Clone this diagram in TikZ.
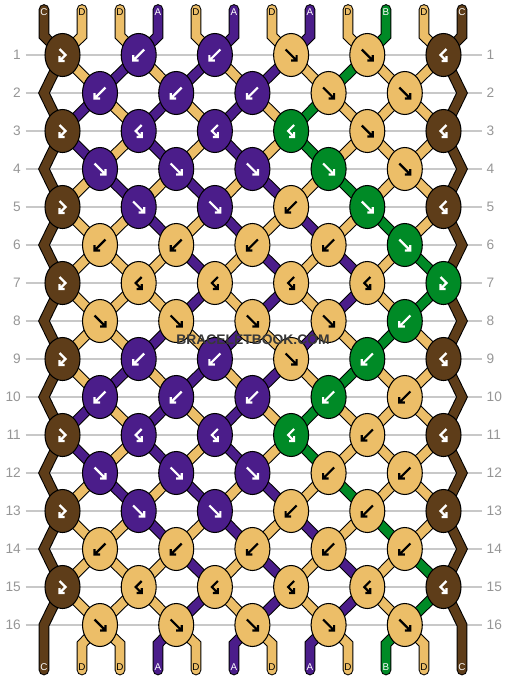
\documentclass[tikz,border=0pt]{standalone}
\usepackage{fontspec}
\setmainfont{Liberation Sans}
\usepackage{tikz}
\usetikzlibrary{shapes.geometric,backgrounds}

\definecolor{colA}{RGB}{75,29,138}
\definecolor{colB}{RGB}{0,138,38}
\definecolor{colC}{RGB}{94,61,25}
\definecolor{colD}{RGB}{236,190,104}
\colorlet{arrA}{white}
\colorlet{arrB}{white}
\colorlet{arrC}{white}
\colorlet{arrD}{black}
\definecolor{gridgray}{RGB}{200,200,200}
\definecolor{rowgray}{RGB}{150,150,150}

\tikzset{
  knot/.style={ellipse, draw=black, line width=0.6pt, inner sep=0pt,
    minimum width=0.7cm, minimum height=0.86cm},
  strand/.style={draw=black, line width=0.6pt, double distance=4.9pt, line join=miter},
  symline/.style={line width=1.25pt, line join=miter},
  rowlab/.style={text=rowgray, inner sep=2.5pt, font=\fontsize{7.8}{9}\selectfont},
  endlab/.style={inner sep=0pt, font=\fontsize{5.6}{6}\selectfont},
  gridline/.style={draw=gridgray, line width=0.85pt},
  symf/.pic={\draw[symline] (-5.5,-5.5) -- (5.5,5.5) (0,5.5) -- (5.5,5.5) -- (5.5,0);},
  symb/.pic={\draw[symline] (5.5,-5.5) -- (-5.5,5.5) (0,5.5) -- (-5.5,5.5) -- (-5.5,0);},
  symfb/.pic={\draw[symline] (-3,-6) -- (3,0) -- (-3,6) (-3,1) -- (-3,6) -- (2,6);},
  symbf/.pic={\draw[symline] (3,-6) -- (-3,0) -- (3,6) (3,1) -- (3,6) -- (-2,6);},
}

\begin{document}
\begin{tikzpicture}[x=0.02cm, y=-0.02cm]
\useasboundingbox (0,0) rectangle (506,680);

% knots, row by row (type/colour)
\foreach \r/\kl in {
  1/{fb/C,b/A,b/A,f/D,f/D,bf/C},
  2/{b/A,b/A,b/A,f/D,f/D},
  3/{fb/C,bf/A,bf/A,bf/B,f/D,bf/C},
  4/{f/A,f/A,f/A,f/B,f/D},
  5/{fb/C,f/A,f/A,b/D,f/B,bf/C},
  6/{b/D,b/D,b/D,b/D,f/B},
  7/{fb/C,bf/D,bf/D,bf/D,bf/D,fb/B},
  8/{f/D,f/D,f/D,f/D,b/B},
  9/{fb/C,b/A,b/A,f/D,b/B,bf/C},
  10/{b/A,b/A,b/A,b/B,b/D},
  11/{fb/C,bf/A,bf/A,bf/B,b/D,bf/C},
  12/{f/A,f/A,f/A,b/D,b/D},
  13/{fb/C,f/A,f/A,b/D,b/D,bf/C},
  14/{b/D,b/D,b/D,b/D,b/D},
  15/{fb/C,bf/D,bf/D,bf/D,bf/D,bf/C},
  16/{f/D,f/D,f/D,f/D,f/D}} {
  \pgfmathsetmacro\ky{55+38*(\r-1)}
  \pgfmathsetmacro\xo{isodd(\r) ? 62.5 : 100}
  \foreach \t/\c [count=\k] in \kl {
    \node[knot, fill=col\c] (k\r-\k) at ({\xo+76.2*(\k-1)},\ky) {};
    \pic[color=arr\c] at (k\r-\k) {sym\t};
  }
  \ifodd\r\relax\else
    \coordinate (L\r) at (44,\ky);
    \coordinate (R\r) at (462,\ky);
  \fi
}

% string ends and their letters
\foreach \c [count=\p] in {C,D,D,A,D,A,D,A,D,B,D,C} {
  \pgfmathsetmacro\sx{44+38*(\p-1)}
  \node[endlab, text=arr\c] (top-\p) at (\sx,12.5) {\c};
  \node[endlab, text=arr\c] (bot-\p) at (\sx,667) {\c};
  \coordinate (a-\p) at (\sx,9.5);
  \coordinate (t-\p) at (\sx,36);
  \coordinate (u-\p) at (\sx,644);
  \coordinate (f-\p) at (\sx,670);
}

\node[font=\bfseries\fontsize{7.9}{9}\selectfont, text=black!78] (wm) at (253,340) {BRACELETBOOK.COM};

\begin{pgfonlayer}{background}
% row lines
\foreach \r in {1,...,16} {
  \node[rowlab, anchor=east] (rl-\r) at (25.5,{55+38*(\r-1)}) {\r};
  \node[rowlab, anchor=west] (rr-\r) at (482,{55+38*(\r-1)}) {\r};
  \draw[gridline] (rl-\r) -- (rr-\r);
}

% from the top into row 1
\foreach \c [count=\p] in {C,D,D,A,D,A,D,A,D,B,D,C} {
  \pgfmathtruncatemacro\k{(\p+1)/2}
  \draw[strand, double=col\c, line cap=round] (a-\p) -- (t-\p) -- (k1-\k.center);
}

% between the rows (positions 2 to 11)
\foreach \r/\cl in {
  1/{D,A,D,A,D,A,D,B,D,D},
  2/{A,D,A,D,A,D,B,D,D,D},
  3/{A,D,A,D,A,D,B,D,D,D},
  4/{D,A,D,A,D,A,D,B,D,D},
  5/{D,D,A,D,A,D,A,D,B,D},
  6/{D,D,D,A,D,A,D,A,D,B},
  7/{D,D,D,A,D,A,D,A,D,B},
  8/{D,D,A,D,A,D,A,D,B,D},
  9/{D,A,D,A,D,A,D,B,D,D},
  10/{A,D,A,D,A,D,B,D,D,D},
  11/{A,D,A,D,A,D,B,D,D,D},
  12/{D,A,D,A,D,A,D,B,D,D},
  13/{D,D,A,D,A,D,A,D,B,D},
  14/{D,D,D,A,D,A,D,A,D,B},
  15/{D,D,D,A,D,A,D,A,D,B}} {
  \pgfmathtruncatemacro\s{\r+1}
  \foreach \c [count=\i] in \cl {
    \pgfmathtruncatemacro\p{\i+1}
    \ifodd\r\relax
      \pgfmathtruncatemacro\a{(\p+1)/2}\pgfmathtruncatemacro\b{\p/2}
    \else
      \pgfmathtruncatemacro\a{\p/2}\pgfmathtruncatemacro\b{(\p+1)/2}
    \fi
    \draw[strand, double=col\c] (k\r-\a.center) -- (k\s-\b.center);
  }
}

% edge strings
\draw[strand, double=colC, line cap=round] (k1-1.center)
  \foreach \r [evaluate=\r as \q using int(\r+1)] in {2,4,...,14} {-- (L\r) -- (k\q-1.center)}
  -- (L16) -- (f-1);
\draw[strand, double=colC, line cap=round] (k1-6.center)
  \foreach \r [evaluate=\r as \q using int(\r+1)] in {2,4,...,14} {-- (R\r) -- (k\q-6.center)}
  -- (R16) -- (f-12);

% from row 16 to the bottom
\foreach \c [count=\i] in {D,D,A,D,A,D,A,D,B,D} {
  \pgfmathtruncatemacro\p{\i+1}
  \pgfmathtruncatemacro\k{\p/2}
  \draw[strand, double=col\c, line cap=round] (k16-\k.center) -- (u-\p) -- (f-\p);
}
\end{pgfonlayer}
\end{tikzpicture}
\end{document}
